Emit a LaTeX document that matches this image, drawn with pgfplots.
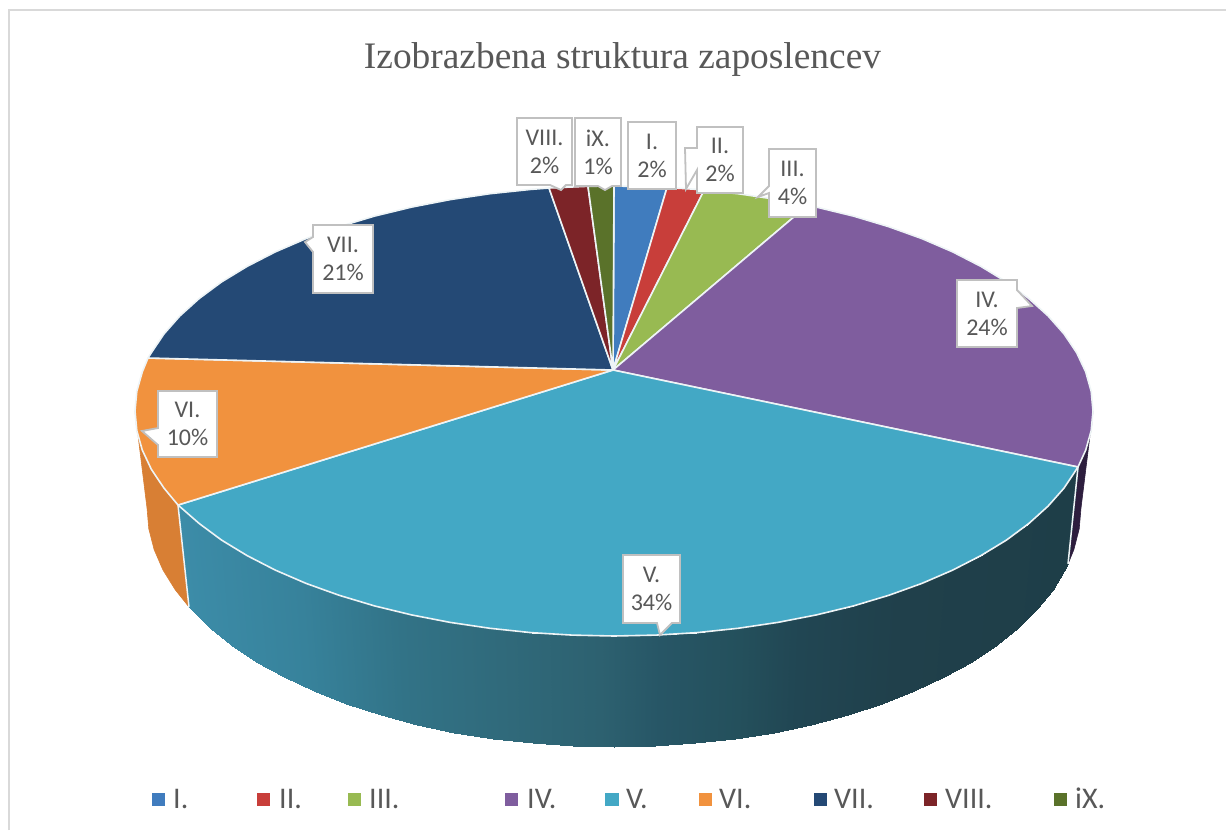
\documentclass[border=0pt]{standalone}
\usepackage{pgfplots}
\pgfplotsset{compat=1.18}
\usepackage{fontspec}
\setmainfont{Carlito}
\newfontfamily\titlefont{Liberation Serif}
\definecolor{txt}{RGB}{88,88,88}
\definecolor{box}{RGB}{192,192,192}
\definecolor{edge}{RGB}{238,244,246}
\definecolor{cI}{RGB}{64,124,190}
\definecolor{cII}{RGB}{200,62,58}
\definecolor{cIII}{RGB}{152,186,82}
\definecolor{cIV}{RGB}{127,93,158}
\definecolor{cV}{RGB}{67,168,197}
\definecolor{cVI}{RGB}{241,146,62}
\definecolor{cVII}{RGB}{36,73,117}
\definecolor{cVIII}{RGB}{124,36,40}
\definecolor{cIX}{RGB}{90,114,42}
\newcommand{\strip}[4]{\addplot[mark=none,line width=0.6pt,color={rgb,255:red,#1;green,#2;blue,#3},fill={rgb,255:red,#1;green,#2;blue,#3}] coordinates {#4} -- cycle;}
\newcommand{\slice}[2]{\addplot[mark=none,line width=1.6pt,line join=round,color=edge,fill=#1] coordinates {#2} -- cycle;}
\newcommand{\callout}[3]{\addplot[mark=none,line width=1.8pt,line join=miter,color=box,fill=white] coordinates {#1} -- cycle;
\node[align=center,text=txt,font=\fontsize{24}{28}\selectfont,inner sep=0pt] at (axis cs:#2) {#3};}
\newcommand{\legitem}[4]{\addplot[only marks,mark=square*,mark size=6.2pt,color=#1] coordinates {(#2,799)};
\node[anchor=base west,text=txt,font=\fontsize{30}{32}\selectfont,inner sep=0pt] at (axis cs:#3,808) {#4};}
\begin{document}
\begin{tikzpicture}
\begin{axis}[scale only axis,width=1229pt,height=836pt,xmin=0,xmax=1229,ymin=0,ymax=836,y dir=reverse,hide axis,clip=false,
 colormap={sideV}{rgb255(178)=(60,140,168) rgb255(300)=(55,130,155) rgb255(400)=(50,115,135) rgb255(500)=(48,106,123) rgb255(600)=(45,97,112) rgb255(660)=(39,86,102) rgb255(740)=(36,80,92) rgb255(800)=(33,70,83) rgb255(900)=(32,64,75) rgb255(1078)=(30,62,72)},
 point meta min=178,point meta max=1078]
% frame
\addplot[mark=none,color=black!15,line width=1.6pt] coordinates {(9,830)(9,10)(1226,10)};
% side walls
\strip{45}{30}{62}{(1093,411)(1091.2,430.6)(1085.7,450.1)(1078,467)(1068,564)(1073.9,549.5)(1079.2,528.8)(1081,508)}
\strip{216}{127}{52}{(178,505)(163.9,488)(151.3,469.2)(142.3,450.1)(136.8,430.6)(135,411)(147,508)(148.8,528.8)(154.1,549.5)(162.9,569.9)(175.2,589.7)(189,607)}
\addplot[surf,shader=interp,mesh/rows=2,point meta=explicit] table[meta=c] {
x y c
178 505 178
199.2 523.5 199
221.6 540.1 222
247.1 555.6 247
275.3 570.1 275
306.1 583.4 306
339.2 595.3 339
374.5 605.9 375
411.6 614.9 412
450.2 622.4 450
490 628.3 490
530.8 632.6 531
572.2 635.1 572
614 636 614
655.8 635.1 656
697.2 632.6 697
738 628.3 738
777.8 622.4 778
816.4 614.9 816
853.5 605.9 854
888.8 595.3 889
921.9 583.4 922
952.7 570.1 953
980.9 555.6 981
1006.4 540.1 1006
1028.8 523.5 1029
1048.1 506.1 1048
1064.1 488 1064
1078 467 1078
189 607 178
209.6 627.5 199
231.4 645.1 222
256.3 661.6 247
283.8 677 275
313.8 691.1 306
346.1 703.8 339
380.5 715 375
416.6 724.6 412
454.3 732.6 450
493.1 738.8 490
532.9 743.4 531
573.3 746.1 572
614 747 614
654.7 746.1 656
695.1 743.4 697
734.9 738.8 738
773.7 732.6 778
811.4 724.6 816
847.5 715 854
881.9 703.8 889
914.2 691.1 922
944.2 677 953
971.7 661.6 981
996.6 645.1 1006
1018.4 627.5 1029
1037.2 609 1048
1052.8 589.7 1064
1068 564 1078
};
\addplot[mark=none,color=edge,line width=1.5pt] coordinates {(178,505)(189,607)};
\addplot[mark=none,color=edge,line width=1.5pt] coordinates {(1078,467)(1068,564)};
% top slices
\slice{cI}{(613,370)(614,186)(655.8,186.9)(667,187.5)}
\slice{cII}{(613,370)(667,187.5)(697.2,189.4)(704,190.5)}
\slice{cIII}{(613,370)(704,190.5)(738,193.7)(777.8,199.6)(808,205)}
\slice{cIV}{(613,370)(808,205)(816.4,207.1)(853.5,216.1)(888.8,226.7)(921.9,238.6)(952.7,251.9)(980.9,266.4)(1006.4,281.9)(1028.8,298.5)(1048.1,315.9)(1064.1,334)(1076.7,352.8)(1085.7,371.9)(1091.2,391.4)(1093,411)(1091.2,430.6)(1085.7,450.1)(1078,467)}
\slice{cV}{(613,370)(1078,467)(1064.1,488)(1048.1,506.1)(1028.8,523.5)(1006.4,540.1)(980.9,555.6)(952.7,570.1)(921.9,583.4)(888.8,595.3)(853.5,605.9)(816.4,614.9)(777.8,622.4)(738,628.3)(697.2,632.6)(655.8,635.1)(614,636)(572.2,635.1)(530.8,632.6)(490,628.3)(450.2,622.4)(411.6,614.9)(374.5,605.9)(339.2,595.3)(306.1,583.4)(275.3,570.1)(247.1,555.6)(221.6,540.1)(199.2,523.5)(178,505)}
\slice{cVI}{(613,370)(178,505)(163.9,488)(151.3,469.2)(142.3,450.1)(136.8,430.6)(135,411)(136.8,391.4)(142.3,371.9)(148,358)}
\slice{cVII}{(613,370)(148,358)(151.3,352.8)(163.9,334)(179.9,315.9)(199.2,298.5)(221.6,281.9)(247.1,266.4)(275.3,251.9)(306.1,238.6)(339.2,226.7)(374.5,216.1)(411.6,207.1)(450.2,199.6)(490,193.7)(530.8,189.4)(549,188)}
\slice{cVIII}{(613,370)(549,188)(588,186.3)}
\slice{cIX}{(613,370)(588,186.3)(614,186)}
% callouts
\callout{(517,118)(572,118)(572,185)(566,185)(561,190)(550,185)(517,185)}{544.5,152}{VIII.\\2\%}
\callout{(575,118)(621,118)(621,186)(612,186)(605,190)(598,186)(575,186)}{598,152}{iX.\\1\%}
\callout{(628,122)(676,122)(676,189)(628,189)}{652,155.5}{I.\\2\%}
\callout{(697,127)(743,127)(743,193)(697,193)(697,170)(686,189)(685,148)(697,148)}{720,160}{II.\\2\%}
\callout{(769,149)(816,149)(816,217)(769,217)(769,193)(758,197)(769,186)}{792.5,183}{III.\\4\%}
\callout{(957,280)(1017,280)(1017,290)(1032,306)(1017,308)(1017,347)(957,347)}{987,313.5}{IV.\\24\%}
\callout{(623,555)(680,555)(680,623)(672,623)(660,635)(657,623)(623,623)}{651.5,589}{V.\\34\%}
\callout{(158,391)(217,391)(217,457)(158,457)(158,445)(142,431)(158,428)}{187.5,424}{VI.\\10\%}
\callout{(313,225)(373,225)(373,293)(313,293)(313,252)(305,242)(313,237)}{343,259}{VII.\\21\%}
% title
\node[anchor=base,text=txt,font=\titlefont\fontsize{37.4}{40}\selectfont,inner sep=0pt] at (axis cs:622.5,68) {Izobrazbena struktura zaposlencev};
% legend
\legitem{cI}{158}{173}{I.}
\legitem{cII}{263}{279}{II.}
\legitem{cIII}{354}{369}{III.}
\legitem{cIV}{511}{527}{IV.}
\legitem{cV}{611.5}{626}{V.}
\legitem{cVI}{705}{719}{VI.}
\legitem{cVII}{820}{834}{VII.}
\legitem{cVIII}{930}{945}{VIII.}
\legitem{cIX}{1060}{1075}{iX.}
\end{axis}
\path (0,0) rectangle (1229pt,836pt);
\end{tikzpicture}
\end{document}
